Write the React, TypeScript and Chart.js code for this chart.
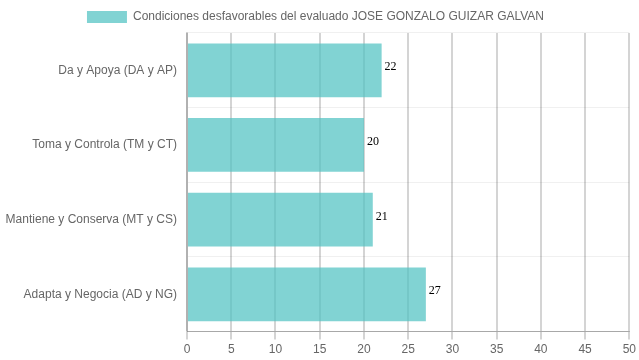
import React, { useEffect, useRef } from "react";
import { Chart, registerables } from "chart.js";

Chart.register(...registerables);

const categories = [
  "Da y Apoya (DA y AP)",
  "Toma y Controla (TM y CT)",
  "Mantiene y Conserva (MT y CS)",
  "Adapta y Negocia (AD y NG)",
];
const values = [22, 20, 21, 27];
const seriesLabel = "Condiciones desfavorables del evaluado JOSE GONZALO GUIZAR GALVAN";

const valueLabels = {
  id: "valueLabels",
  afterDatasetsDraw(chart: any) {
    const ctx = chart.ctx;
    const meta = chart.getDatasetMeta(0);
    ctx.save();
    ctx.font = "12px 'Liberation Serif'";
    ctx.fillStyle = "#000";
    ctx.textAlign = "left";
    ctx.textBaseline = "alphabetic";
    meta.data.forEach((bar: any, i: number) => {
      ctx.fillText(String(values[i]), bar.x + 3, bar.y);
    });
    ctx.restore();
  },
};

export default function App() {
  const ref = useRef<HTMLCanvasElement>(null);
  useEffect(() => {
    document.body.style.margin = "0";
    const chart = new Chart(ref.current!, {
      type: "bar",
      data: {
        labels: categories,
        datasets: [
          {
            label: seriesLabel,
            data: values,
            backgroundColor: "rgba(75,192,192,0.7)",
            borderColor: "rgba(75,192,192,0.9)",
            borderWidth: 0,
          },
        ],
      },
      options: {
        indexAxis: "y",
        responsive: false,
        animation: false,
        layout: { padding: { left: 0, right: 8, top: 1, bottom: 0 } },
        plugins: {
          legend: {
            labels: {
              color: "#666",
              font: { family: "'Liberation Sans', Arial", size: 12 },
              boxWidth: 40,
              boxHeight: 12,
            },
          },
          tooltip: { enabled: false },
        },
        scales: {
          x: {
            min: 0,
            max: 50,
            ticks: { stepSize: 5, color: "#666", font: { family: "'Liberation Sans', Arial", size: 12 } },
            grid: { color: "rgba(0,0,0,0.17)", lineWidth: 2 },
            border: { color: "rgba(0,0,0,0.3)", width: 1 },
          },
          y: {
            ticks: { color: "#666", font: { family: "'Liberation Sans', Arial", size: 12 }, padding: 10 },
            grid: { color: "rgba(0,0,0,0.06)", drawTicks: false },
            border: { color: "rgba(0,0,0,0.17)", width: 2 },
            afterFit: (scale: any) => {
              scale.width = 187;
            },
          },
        },
      },
      plugins: [valueLabels],
    });
    return () => chart.destroy();
  }, []);
  return <canvas ref={ref} width={639} height={360} style={{ display: "block" }} />;
}
